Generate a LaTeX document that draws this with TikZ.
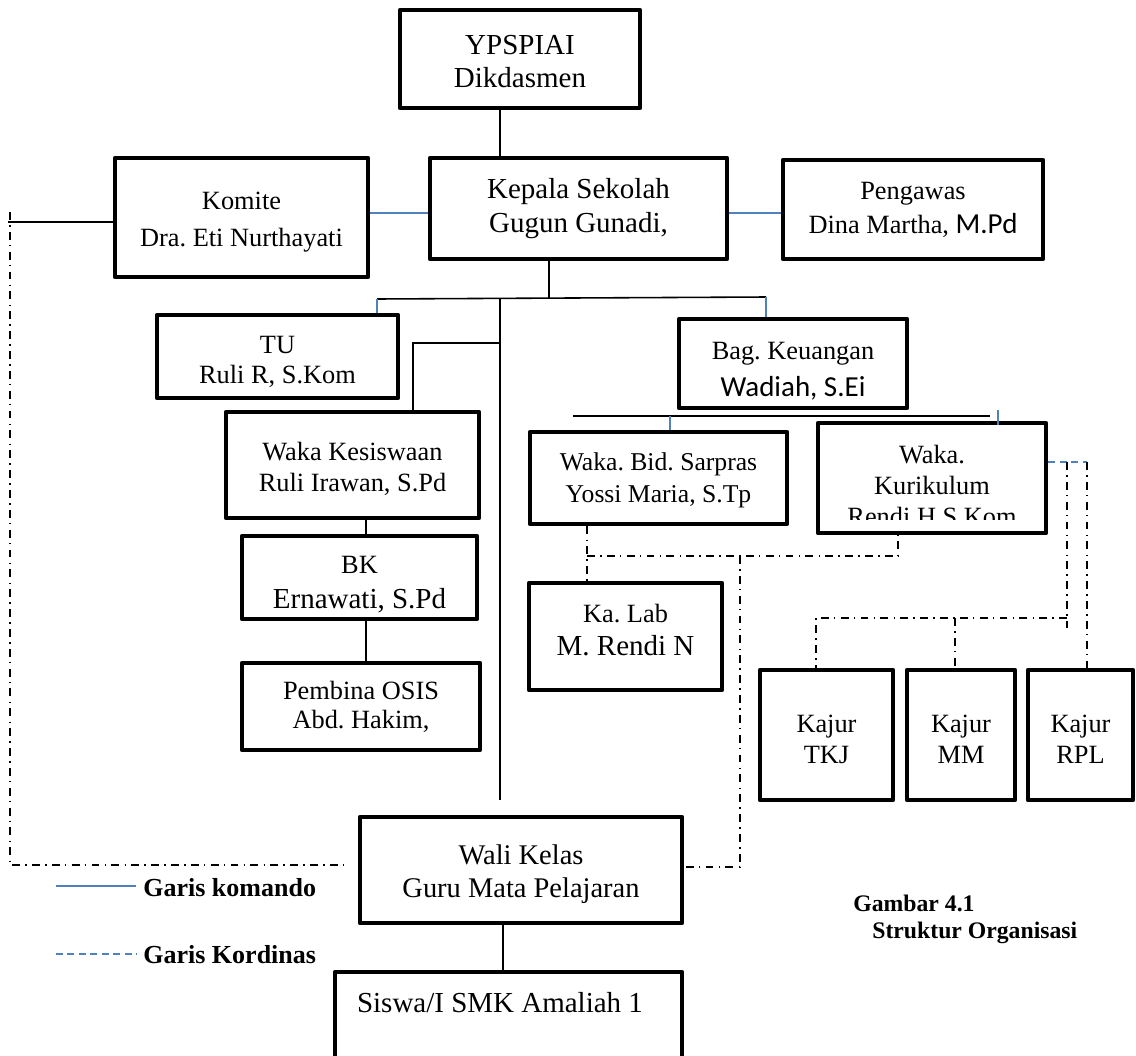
\documentclass[tikz,border=0pt]{standalone}
\usepackage{fontspec}
\setmainfont{Liberation Serif}
\newfontfamily\calibri{Carlito}
\definecolor{cmdblue}{RGB}{79,129,189}
\newcommand\setfs[2]{\fontsize{#1}{#2}\selectfont}
% struts that push a text block down (tall first line) or up (deep last line)
\newcommand\pushdown[1]{\rule{0pt}{#1}}
\newcommand\pushup[1]{\rule[-#1]{0pt}{0pt}}

\begin{document}
\frenchspacing
\begin{tikzpicture}[x=0.02cm,y=-0.02cm,
  box/.style={draw, line width=2.7pt, line join=round, inner sep=0pt, align=center, font=\setfs{15}{17.6}},
  span/.style n args={4}{minimum width={(#3-(#1))*0.02cm}, minimum height={(#4-(#2))*0.02cm},
    at={({(#1+#3)/2},{(#2+#4)/2})}},
  link/.style={line width=0.9pt},
  cmd/.style={cmdblue, line width=0.9pt},
  coordline/.style={cmdblue, line width=0.9pt, dash pattern=on 4pt off 2.5pt},
  dd/.style={line width=0.9pt, dash pattern=on 4.5pt off 3pt on 0.8pt off 3pt},
  legend/.style={font=\bfseries\setfs{14.8}{17}, anchor=west, inner sep=0pt},
  caption/.style={font=\bfseries\setfs{13.5}{16}, anchor=west, inner sep=0pt}]
\useasboundingbox (0,0) rectangle (1136,1055);
\clip (0,0) rectangle (1136,1055);

% boxes
\node[box, span={400}{10}{640}{108}, font=\setfs{16.5}{18.7}] (yp) {\pushdown{13.5pt}YPSPIAI\\Dikdasmen};
\node[box, span={430}{158}{727}{259}, font=\setfs{16.5}{19.8}] (kep) {Kepala Sekolah\\Gugun Gunadi,};
\node[box, span={115}{158}{368}{277}, font=\setfs{15}{21}] (kom) {\pushdown{15pt}Komite\\Dra. Eti Nurthayati};
\node[box, span={783}{160}{1043}{259}, font=\setfs{15}{19.3}] (peng) {Pengawas\\Dina Martha, {\calibri\setfs{16.5}{19.3}M.Pd}};
\node[box, span={157}{315}{398}{398}, font=\setfs{15}{17}] (tu) {\pushdown{16pt}TU\\Ruli R, S.Kom};
\node[box, span={679}{319}{907}{408}, font=\setfs{15}{21}] (keu) {\pushdown{19pt}Bag. Keuangan\\{\calibri\setfs{16.5}{21}Wadiah, S.Ei}};
\node[box, span={226}{412}{479}{518}, font=\setfs{15}{17.6}] (kes) {\pushdown{15pt}Waka Kesiswaan\\Ruli Irawan, S.Pd};
\node[box, span={242}{536}{477}{619}, font=\setfs{15}{19.8}] (bk) {\pushdown{18pt}BK\\{\setfs{16.5}{19.8}Ernawati, S.Pd}};
\node[box, span={242}{663}{480}{750}, font=\setfs{15}{16.5}] (osis) {Pembina OSIS\\Abd. Hakim,};
\node[box, span={530}{432}{787}{524}, font=\setfs{14.6}{18}] (sar) {\pushdown{13pt}Waka. Bid. Sarpras\\Yossi Maria, S.Tp};
\node[box, span={818}{423}{1046}{533}] (kur) {};
\node[font=\setfs{15}{17.6}, align=center, inner sep=0pt] (kurT) at (932,470) {Waka.\\Kurikulum};
\begin{scope}
  \clip (818,423) rectangle (1046,519);
  \node[font=\setfs{15}{17.6}, anchor=base, inner sep=0pt] (kurN) at (932,525) {Rendi H S Kom};
\end{scope}
\node[box, span={529}{583}{722}{690}, font=\setfs{15}{18.7}] (lab) {Ka. Lab\\{\setfs{16.5}{18.7}M. Rendi N}\pushup{8pt}};
\node[box, span={760}{670}{893}{800}, font=\setfs{15}{17.6}] (tkj) {\pushdown{15pt}Kajur\\TKJ};
\node[box, span={907}{670}{1015}{800}, font=\setfs{15}{17.6}] (mm) {\pushdown{15pt}Kajur\\MM};
\node[box, span={1028}{670}{1133}{800}, font=\setfs{15}{17.6}] (rpl) {\pushdown{15pt}Kajur\\RPL};
\node[box, span={360}{817}{682}{923}, font=\setfs{16.2}{19.3}] (wali) {\pushdown{16pt}Wali Kelas\\Guru Mata Pelajaran};
\node[box, span={335}{972}{682}{1100}] (siswa) {};
\node[font=\setfs{16.5}{19}, inner sep=0pt] (siswaT) at (500,1003) {Siswa/I SMK Amaliah 1};

% command lines
\coordinate (spine) at (500,298);
\coordinate (fork) at (549,298);
\coordinate (barL) at (377,299);
\coordinate (barR) at (766,297);
\coordinate (spineEnd) at (500,800);
\draw[link] (yp.south -| spine) -- (kep.north -| spine);
\draw[link] (kep.south -| fork) -- (fork);
\draw[link] (barL) -- (barR);
\draw[cmd] (barL) -- (tu.north -| barL);
\draw[cmd] (barR) -- (keu.north -| barR);
\draw[link] (spine) -- (spineEnd);

\coordinate (kesJ) at (413,343);
\draw[link] (kesJ -| spine) -- (kesJ) -- (kes.north -| kesJ);
\coordinate (colBK) at (366,577);
\draw[link] (kes.south -| colBK) -- (bk.north -| colBK);
\draw[link] (bk.south -| colBK) -- (osis.north -| colBK);

\coordinate (rowMid) at (0,213);
\draw[cmd] (kom.east |- rowMid) -- (kep.west |- rowMid);
\draw[cmd] (kep.east |- rowMid) -- (peng.west |- rowMid);
\coordinate (farLeft) at (8,222);
\draw[link] (farLeft) -- (kom.west |- farLeft);

\coordinate (bar2L) at (573,416);
\coordinate (bar2R) at (990,416);
\draw[link] (bar2L) -- (bar2R);
\coordinate (tickS) at (670,416);
\draw[cmd] (tickS) -- (sar.north -| tickS);
\coordinate (tickK) at (998,410);
\draw[cmd, shorten >=-2.5pt] (tickK) -- (kur.north -| tickK);

\coordinate (siswaCol) at (503,0);
\draw[link] (wali.south -| siswaCol) -- (siswa.north -| siswaCol);

% coordination lines
\coordinate (ddTop) at (10,212);
\coordinate (ddCorner) at (10,865);
\coordinate (ddEnd) at (345,865);
\draw[dd] (ddTop) -- (ddCorner) -- (ddEnd);

\coordinate (sarCol) at (587,556);
\coordinate (kurCol) at (898,556);
\draw[dd] (sar.south -| sarCol) -- (lab.north -| sarCol);
\draw[dd] (sarCol) -- (kurCol) -- (kur.south -| kurCol);
\coordinate (waliCol) at (740,556);
\coordinate (waliRow) at (740,867);
\draw[dd] (waliCol) -- (waliRow) -- (wali.east |- waliRow);

\coordinate (kurRow) at (1087,462);
\draw[coordline] (kur.east |- kurRow) -- (kurRow);
\draw[dd] (kurRow) -- (rpl.north -| kurRow);
\coordinate (kajTop) at (1067,462);
\coordinate (kajBot) at (1067,628);
\draw[dd] (kajTop) -- (kajBot);
\coordinate (kajRow) at (1067,618);
\coordinate (tkjCol) at (816,618);
\coordinate (mmCol) at (955,618);
\draw[dd] (kajRow) -- (tkjCol) -- (tkj.north -| tkjCol);
\draw[dd] (mmCol) -- (mm.north -| mmCol);

% legend
\coordinate (lgA1) at (56,886);
\coordinate (lgA2) at (136,886);
\draw[cmd] (lgA1) -- (lgA2);
\node[legend] (lgA) at (143,888) {Garis komando};
\coordinate (lgB1) at (56,954);
\coordinate (lgB2) at (136,954);
\draw[coordline] (lgB1) -- (lgB2);
\node[legend] (lgB) at (143,955) {Garis Kordinas};

% caption
\node[caption] (cap1) at (853,903) {Gambar 4.1};
\node[caption] (cap2) at (872,933) {Struktur Organisasi};
\end{tikzpicture}
\end{document}
